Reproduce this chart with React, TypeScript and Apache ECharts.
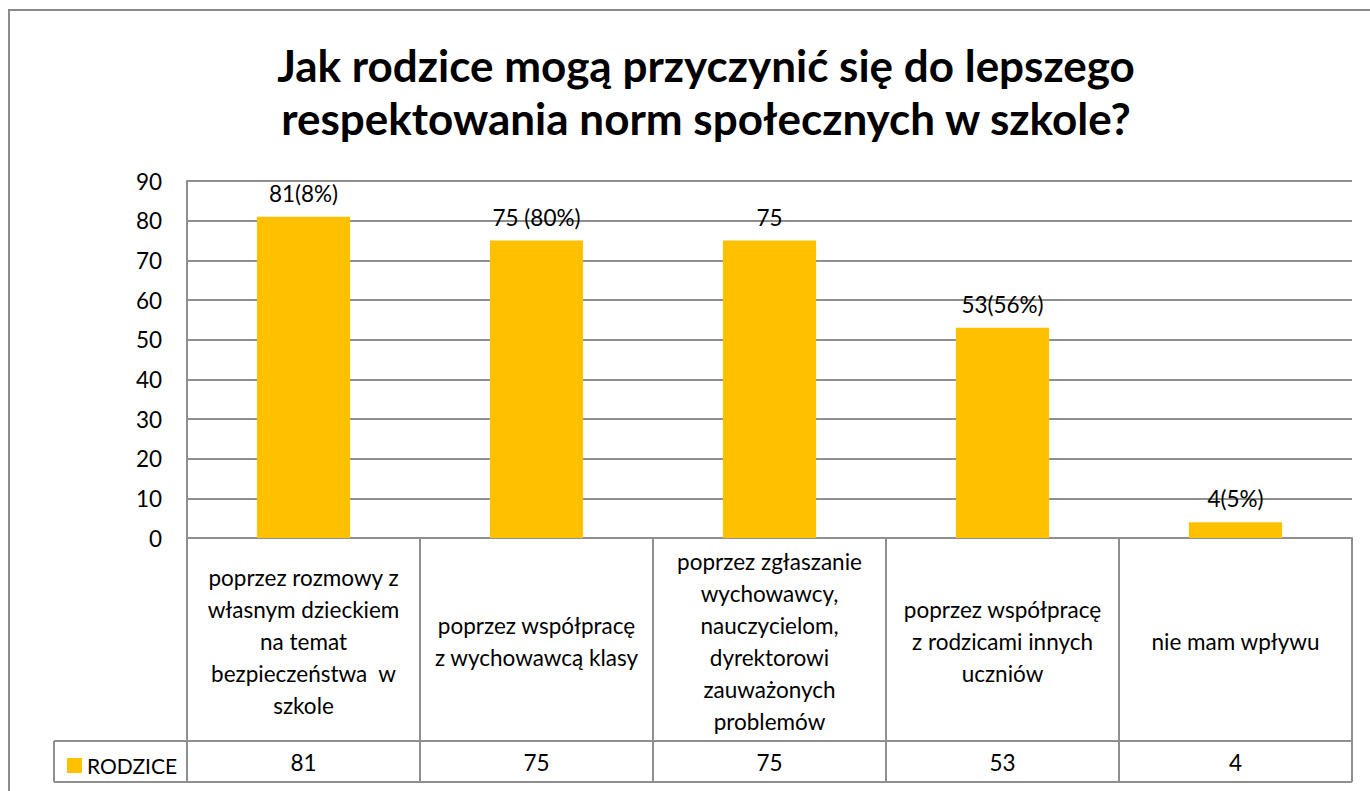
import React, { useEffect, useRef } from "react";
import * as echarts from "echarts";

const titleLines = [
  "Jak rodzice mogą przyczynić się do lepszego",
  "respektowania norm społecznych w szkole?",
];
const categories = [
  "poprzez rozmowy z\nwłasnym dzieckiem\nna temat\nbezpieczeństwa  w\nszkole",
  "poprzez współpracę\nz wychowawcą klasy",
  "poprzez zgłaszanie\nwychowawcy,\nnauczycielom,\ndyrektorowi\nzauważonych\nproblemów",
  "poprzez współpracę\nz rodzicami innych\nuczniów",
  "nie mam wpływu",
];
const seriesName = "RODZICE";
const values = [81, 75, 75, 53, 4];
const barLabels = ["81(8%)", "75 (80%)", "75", "53(56%)", "4(5%)"];
const yTicks = { min: 0, max: 90, interval: 10 };

const FONT = "Lato, 'Open Sans', sans-serif";
const GRID = "#8f8f8f";
const BAR = "#FFC000";

export default function App() {
  const ref = useRef<HTMLDivElement>(null);
  useEffect(() => {
    const chart = echarts.init(ref.current!, null, { renderer: "svg" });
    const gridLeft = 187, gridRight = 1352, gridTop = 181, gridBottom = 538;
    const tableMid = 741, tableBottom = 782, legendLeft = 54;
    chart.setOption({
      animation: false,
      backgroundColor: "#fff",
      textStyle: { fontFamily: FONT },
      title: {
        text: titleLines.join("\n"),
        left: 701,
        top: 33,
        textAlign: "center",
        textStyle: { fontSize: 44, fontWeight: "bold", color: "#000", lineHeight: 53, fontFamily: FONT },
      },
      legend: {
        left: 62,
        top: 750,
        itemWidth: 15,
        itemHeight: 15,
        itemGap: 7,
        textStyle: { fontSize: 21, color: "#000", fontFamily: FONT },
        data: [{ name: seriesName, icon: "rect" }],
      },
      grid: { left: gridLeft, right: 1370 - gridRight, top: gridTop, bottom: 791 - gridBottom, containLabel: false },
      xAxis: [
        {
          type: "category",
          data: categories,
          position: "bottom",
          axisLine: { show: true, lineStyle: { color: GRID, width: 2 } },
          axisTick: { show: true, length: tableBottom - gridBottom, lineStyle: { color: GRID, width: 2 } },
          axisLabel: {
            fontSize: 22.5,
            color: "#000",
            lineHeight: 32,
            verticalAlign: "middle",
            align: "center",
            margin: 103,
            interval: 0,
            fontFamily: FONT,
          },
        },
        {
          type: "category",
          data: values.map(String),
          position: "bottom",
          offset: tableMid - gridBottom,
          axisLine: { show: false },
          axisTick: { show: false },
          axisLabel: { fontSize: 22.5, color: "#000", verticalAlign: "middle", margin: 21, interval: 0, fontFamily: FONT },
        },
      ],
      yAxis: {
        type: "value",
        min: yTicks.min,
        max: yTicks.max,
        interval: yTicks.interval,
        axisLine: { show: true, lineStyle: { color: GRID, width: 2 } },
        axisTick: { show: false },
        splitLine: { show: true, lineStyle: { color: GRID, width: 2 } },
        axisLabel: { fontSize: 22.5, color: "#000", margin: 25, fontFamily: FONT },
      },
      series: [
        {
          name: seriesName,
          type: "bar",
          data: values,
          barWidth: "40%",
          itemStyle: { color: BAR },
          label: {
            show: true,
            position: "top",
            distance: 12,
            fontSize: 22.5,
            color: "#000",
            fontFamily: FONT,
            formatter: (p: any) => barLabels[p.dataIndex],
          },
        },
      ],
      graphic: [
        { type: "rect", shape: { x: 9, y: 10, width: 1400, height: 800 }, style: { fill: "none", stroke: "#8a8a8a", lineWidth: 2 }, silent: true },
        { type: "line", shape: { x1: legendLeft, y1: tableMid, x2: gridRight, y2: tableMid }, style: { stroke: GRID, lineWidth: 2 } },
        { type: "line", shape: { x1: legendLeft, y1: tableBottom, x2: gridRight, y2: tableBottom }, style: { stroke: GRID, lineWidth: 2 } },
        { type: "line", shape: { x1: legendLeft, y1: tableMid, x2: legendLeft, y2: tableBottom }, style: { stroke: GRID, lineWidth: 2 } },
      ],
    });
    return () => chart.dispose();
  }, []);
  return <div ref={ref} style={{ position: "fixed", left: 0, top: 0, width: 1370, height: 791 }} />;
}
